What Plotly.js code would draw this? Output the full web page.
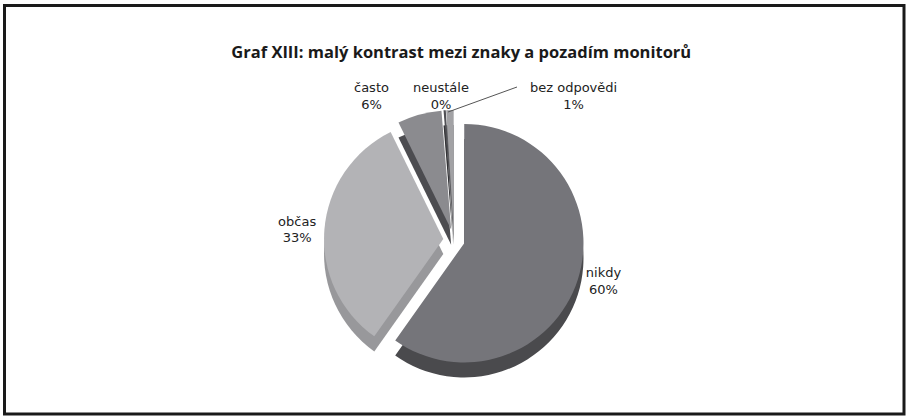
<!DOCTYPE html>
<html>
<head>
<meta charset="utf-8">
<script src="https://cdn.plot.ly/plotly-3.0.1.min.js"></script>
<style>
  html, body { margin: 0; padding: 0; background: #ffffff; }
  #chart { width: 908px; height: 418px; }
</style>
</head>
<body>
<div id="chart"></div>
<script>
// Data
const categories = ["nikdy", "občas", "často", "neustále", "bez odpovědi"];
const values = [60, 33, 6, 0.3, 1];
const titleText = "Graf XIII: malý kontrast mezi znaky a pozadím monitorů";

// Styling
const TITLE_FONT = "'Open Sans', Lato, sans-serif";
const LABEL_FONT = "'DejaVu Sans', 'Open Sans', sans-serif";
const topColors = ["#75757a", "#b3b3b6", "#8b8b8f", "#505054", "#a2a2a5"];
const sideColors = ["#4a4a4d", "#98989b", "#4c4c50", "#333336", "#6a6a6d"];
const pulls = [0.09, 0.09, 0.09, 0.09, 0.09];
// which slices get their label from the pie itself; the small top slices are labelled by annotations
const pieLabelled = [true, true, false, false, false];

const total = values.reduce((a, b) => a + b, 0);
const pctText = values.map(v => Math.round(v / total * 100) + "%");

const dom = { x: [0.1, 0.9], y: [0.115, 0.737] };
const depth = 0.036;

const sideTrace = {
  type: "pie",
  labels: categories,
  values: values,
  sort: false,
  direction: "clockwise",
  rotation: 0,
  pull: pulls,
  marker: { colors: sideColors, line: { width: 0 } },
  textinfo: "none",
  hoverinfo: "skip",
  showlegend: false,
  domain: { x: dom.x, y: [dom.y[0] - depth, dom.y[1] - depth] }
};

const topTrace = {
  type: "pie",
  labels: categories,
  values: values,
  sort: false,
  direction: "clockwise",
  rotation: 0,
  pull: pulls,
  marker: { colors: topColors, line: { width: 0 } },
  texttemplate: pieLabelled.map(f => f ? "%{label}<br>%{percent:.0%}" : ""),
  textposition: pieLabelled.map(f => f ? "outside" : "none"),
  outsidetextfont: { family: LABEL_FONT, size: 13, color: "#222222" },
  showlegend: false,
  domain: dom
};

// label placement for the small slices (paper coords)
const smallLabelPos = {
  2: { x: 371 / 908, y: 1 - 96 / 418 },
  3: { x: 441 / 908, y: 1 - 96 / 418 },
  4: { x: 573 / 908, y: 1 - 96 / 418 }
};

const annotations = Object.keys(smallLabelPos).map(k => ({
  xref: "paper", yref: "paper",
  x: smallLabelPos[k].x, y: smallLabelPos[k].y,
  xanchor: "center", yanchor: "middle",
  text: categories[k] + "<br>" + pctText[k],
  showarrow: false,
  font: { family: LABEL_FONT, size: 13, color: "#222222" }
}));

const layout = {
  width: 908,
  height: 418,
  margin: { l: 0, r: 0, t: 0, b: 0 },
  paper_bgcolor: "#ffffff",
  plot_bgcolor: "#ffffff",
  showlegend: false,
  font: { family: LABEL_FONT, color: "#222222" },
  title: {
    text: "<b>" + titleText + "</b>",
    x: 0.508,
    xanchor: "center",
    y: 1 - 52 / 418,
    yanchor: "middle",
    font: { family: TITLE_FONT, size: 16.5, color: "#1a1a1a" }
  },
  annotations: annotations,
  shapes: [
    {
      type: "rect", xref: "paper", yref: "paper",
      x0: 4.5 / 908, x1: 904 / 908, y0: 1 - 414 / 418, y1: 1 - 5.5 / 418,
      line: { color: "#1a1a1a", width: 3 }
    },
    {
      // leader line for "bez odpovědi"
      type: "line", xref: "paper", yref: "paper",
      x0: 517 / 908, y0: 1 - 87 / 418, x1: 448 / 908, y1: 1 - 112 / 418,
      line: { color: "#555555", width: 1 }
    }
  ]
};

Plotly.newPlot("chart", [sideTrace, topTrace], layout, { displayModeBar: false, staticPlot: true });
</script>
</body>
</html>
